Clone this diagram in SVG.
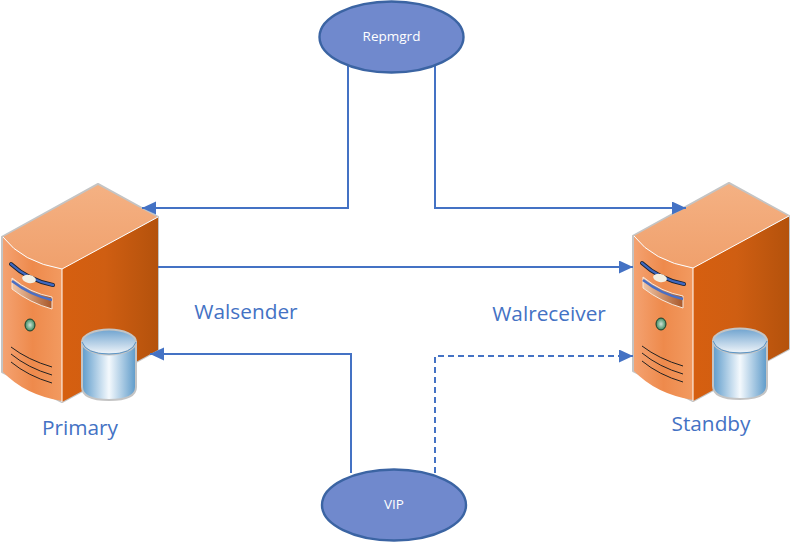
<svg xmlns="http://www.w3.org/2000/svg" xmlns:xlink="http://www.w3.org/1999/xlink" width="792" height="542" viewBox="0 0 792 542">
<style>
.c{fill:none;stroke:#4472c4;stroke-width:2}
.e{fill:#7089cd;stroke:#3b64a3;stroke-width:2.4}
.et{font-family:"Open Sans","Noto Sans",sans-serif;font-size:13.500px;fill:#fff;text-anchor:middle}
.l{font-family:"Open Sans","Noto Sans",sans-serif;font-size:20.800px;fill:#4472c4;text-anchor:middle}
.v{fill:none;stroke:#222;stroke-width:1}
</style>
<defs>
<marker id="a" markerUnits="userSpaceOnUse" markerWidth="16" markerHeight="14" refX="14" refY="6.500" orient="auto-start-reverse"><path d="M0 0L14 6.500L0 13Z" fill="#4472c4"/></marker>
<linearGradient id="top" x1="0" y1="0" x2="0" y2="1"><stop offset="0" stop-color="#f4b183"/><stop offset="1" stop-color="#f0a06c"/></linearGradient>
<linearGradient id="front" x1="0" y1="0" x2="1" y2="0"><stop offset="0" stop-color="#f4a271"/><stop offset=".5" stop-color="#ee8a4c"/><stop offset="1" stop-color="#f29a60"/></linearGradient>
<linearGradient id="side" x1="0" y1="0" x2="1" y2="0"><stop offset="0" stop-color="#d65f10"/><stop offset=".45" stop-color="#cf5e12"/><stop offset="1" stop-color="#b4520c"/></linearGradient>
<linearGradient id="cyl" x1="0" y1="0" x2="1" y2="0"><stop offset="0" stop-color="#5f9ccb"/><stop offset=".5" stop-color="#f4f9fd"/><stop offset="1" stop-color="#5d9ac9"/></linearGradient>
<linearGradient id="cylt" x1="0" y1="0" x2="0" y2="1"><stop offset="0" stop-color="#6fa3cf"/><stop offset="1" stop-color="#f2f6fa"/></linearGradient>
<linearGradient id="slot" x1="0" y1="0" x2="1" y2="0"><stop offset="0" stop-color="#f2c6a6"/><stop offset="1" stop-color="#a8582a"/></linearGradient>
<radialGradient id="led"><stop offset="0" stop-color="#cfe3d6"/><stop offset="1" stop-color="#3c8a5e"/></radialGradient>
<g id="srv">
<path d="M2 237L98 184L158 217V350L62 402L2 372Z" fill="#c4c4c4" stroke="#c4c4c4" stroke-width="2" stroke-linejoin="round"/>
<path d="M3 237L98 185L157 217L62 269Q22 262 3 237Z" fill="url(#top)"/>
<path d="M62 269L158 217V350L62 402Z" fill="url(#side)"/>
<path d="M3 237Q22 262 62 269V401Q25 395 3 372Z" fill="url(#front)"/>
<path d="M3 237Q22 262 62 269L158 217M62 269V402" fill="none" stroke="#fff" stroke-width="1"/>
<path d="M11 264Q28 280 53 285" fill="none" stroke="#1a2230" stroke-width="4" stroke-linecap="round"/>
<path d="M11 264Q28 280 53 285" fill="none" stroke="#3f68c0" stroke-width="2.400" stroke-linecap="round"/>
<ellipse cx="29" cy="279" rx="7" ry="4" fill="#f3efe2" transform="rotate(12 29 279)"/>
<path d="M12 278Q30 293 52 297V309Q30 303 12 289Z" fill="url(#slot)" stroke="#f6e8dc" stroke-width="1"/>
<path d="M12 281Q30 295 52 300" fill="none" stroke="#4a6fc4" stroke-width="2.400"/>
<ellipse cx="30" cy="325" rx="5" ry="6" fill="url(#led)" stroke="#1d3d2c" stroke-width="1"/>
<path class="v" d="M11 347Q28 360 52 367M11 354Q28 368 52 375M11 362Q28 376 52 383"/>
<path d="M82 342V387Q82 400 109 400Q136 400 136 387V342Z" fill="url(#cyl)" stroke="#c4c4c4" stroke-width="2"/>
<ellipse cx="109" cy="342" rx="27" ry="12.500" fill="url(#cylt)" stroke="#c4c4c4" stroke-width="2"/>
<path d="M82 342Q86 354 109 354Q132 354 136 342" fill="none" stroke="#5b96c8" stroke-width="1"/>
</g>
</defs>
<rect width="792" height="542" fill="#fff"/>
<g id="primary"><use xlink:href="#srv" href="#srv"/><text class="l" x="80" y="435">Primary</text></g>
<g id="standby"><use xlink:href="#srv" href="#srv" transform="translate(631 -1)"/><text class="l" x="711" y="431">Standby</text></g>
<g id="connectors">
<path class="c" marker-end="url(#a)" d="M348 66V208H142"/>
<path class="c" marker-end="url(#a)" d="M435 66V208H686"/>
<path class="c" marker-end="url(#a)" d="M158 267H633"/>
<path class="c" marker-end="url(#a)" d="M351 473V354H150"/>
<path class="c" stroke-dasharray="6 4" marker-end="url(#a)" d="M435 473V356H633"/>
</g>
<g id="repmgrd"><ellipse class="e" cx="391.500" cy="37" rx="72" ry="35.500"/><text class="et" x="391.500" y="41">Repmgrd</text></g>
<g id="vip"><ellipse class="e" cx="394" cy="505" rx="72" ry="35.500"/><text class="et" x="394" y="509">VIP</text></g>
<g id="walsender"><text class="l" x="246" y="319">Walsender</text></g>
<g id="walreceiver"><text class="l" x="549" y="321">Walreceiver</text></g>
</svg>
